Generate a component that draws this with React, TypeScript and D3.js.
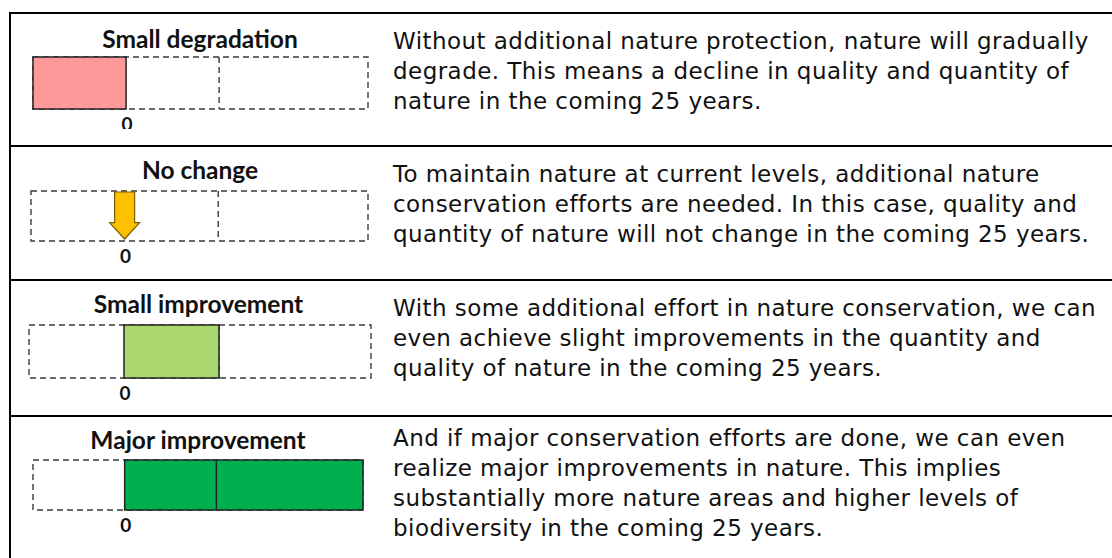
import React from "react";
import * as d3 from "d3";

// ---- data ----
const categories = ["Small degradation", "No change", "Small improvement", "Major improvement"];
const barStart = [-1, 0, 0, 0];
const barEnd = [0, 0, 1, 2.6];
const barColors = ["#FF9999", "#FFC000", "#A9D66E", "#00B050"];
const scaleDomain = [-1, 2.6];
const gridValues = [1];
const zeroLabel = "0";
const descriptions = [
  [
    "Without additional nature protection, nature will gradually",
    "degrade. This means a decline in quality and quantity of",
    "nature in the coming 25 years.",
  ],
  [
    "To maintain nature at current levels, additional nature",
    "conservation efforts are needed. In this case, quality and",
    "quantity of nature will not change in the coming 25 years.",
  ],
  [
    "With some additional effort in nature conservation, we can",
    "even achieve slight improvements in the quantity and",
    "quality of nature in the coming 25 years.",
  ],
  [
    "And if major conservation efforts are done, we can even",
    "realize major improvements in nature. This implies",
    "substantially more nature areas and higher levels of",
    "biodiversity in the coming 25 years.",
  ],
];

// ---- layout ----
const W = 1112;
const H = 558;
const rowLines = [13, 146, 280, 416];
const panelLayout = [
  { x0: 33, x1: 368, top: 57, bottom: 109, titleY: 48, titleX: 200, clipBottom: 129 },
  { x0: 31, x1: 368, top: 191, bottom: 241, titleY: 179, titleX: 200, clipBottom: 263 },
  { x0: 29, x1: 371, top: 325, bottom: 378, titleY: 313, titleX: 198.5, clipBottom: 410 },
  { x0: 33, x1: 363, top: 460, bottom: 510, titleY: 449, titleX: 198, clipBottom: 558 },
];
const textFirstBaseline = [49, 182, 316, 446];
const lineHeight = 30;
const textX = 393;

const dashStyle = { stroke: "#3a3a3a", strokeWidth: 1.4, strokeDasharray: "6,4", fill: "none" };

function Panel({ i }: { i: number }) {
  const L = panelLayout[i];
  const x = d3.scaleLinear().domain(scaleDomain).range([L.x0, L.x1]);
  const s = barStart[i];
  const e = barEnd[i];
  const isArrow = s === e;
  const cx = x(0);
  const arrowPath = (() => {
    const p = d3.path();
    const top = L.top + 1;
    const tip = L.bottom - 2;
    const neck = top + (tip - top) * 0.65;
    p.moveTo(cx - 10, top);
    p.lineTo(cx + 10, top);
    p.lineTo(cx + 10, neck);
    p.lineTo(cx + 15, neck);
    p.lineTo(cx, tip);
    p.lineTo(cx - 15, neck);
    p.lineTo(cx - 10, neck);
    p.closePath();
    return p.toString();
  })();
  return (
    <g clipPath={`url(#clip${i})`}>
      <defs>
        <clipPath id={`clip${i}`}>
          <rect x={12} y={rowLines[i] + 2} width={370} height={L.clipBottom - rowLines[i] - 2} />
        </clipPath>
      </defs>
      <text
        x={L.titleX}
        y={L.titleY}
        textAnchor="middle"
        fontFamily="Lato, 'Open Sans', sans-serif"
        fontWeight={700}
        fontSize={24.5}
        fill="#111"
      >
        {categories[i]}
      </text>
      <rect x={x(-1)} y={L.top} width={x(2.6) - x(-1)} height={L.bottom - L.top} style={dashStyle} />
      {gridValues.map((g) => (
        <line key={g} x1={x(g)} x2={x(g)} y1={L.top} y2={L.bottom} style={dashStyle} />
      ))}
      {!isArrow && (
        <rect
          x={x(Math.min(s, e))}
          y={L.top}
          width={Math.abs(x(e) - x(s))}
          height={L.bottom - L.top}
          fill={barColors[i]}
          stroke="#222"
          strokeWidth={1.5}
        />
      )}
      {!isArrow &&
        gridValues
          .filter((g) => g > Math.min(s, e) && g < Math.max(s, e))
          .map((g) => (
            <line key={"s" + g} x1={x(g)} x2={x(g)} y1={L.top} y2={L.bottom} stroke="#222" strokeWidth={1.5} />
          ))}
      {isArrow && (
        <>
          <line x1={cx} x2={cx} y1={L.top - 1} y2={L.top + 2} stroke="#5a4a10" strokeWidth={1.2} />
          <path d={arrowPath} fill={barColors[i]} stroke="#7a5c00" strokeWidth={1.2} />
        </>
      )}
      <text
        x={cx + 1}
        y={L.bottom + 22}
        textAnchor="middle"
        fontFamily="Lato, 'Open Sans', sans-serif"
        fontWeight={700}
        fontSize={19}
        fill="#111"
      >
        {zeroLabel}
      </text>
    </g>
  );
}

export default function App() {
  return (
    <svg
      width={W}
      height={H}
      viewBox={`0 0 ${W} ${H}`}
      style={{ position: "absolute", left: 0, top: 0, background: "#fff" }}
    >
      <rect x={0} y={0} width={W} height={H} fill="#fff" />
      {rowLines.map((y, k) => (
        <line key={k} x1={9} x2={W} y1={y} y2={y} stroke="#000" strokeWidth={2} />
      ))}
      <line x1={10} x2={10} y1={12} y2={H} stroke="#000" strokeWidth={2} />
      {categories.map((_, i) => (
        <Panel key={i} i={i} />
      ))}
      {descriptions.map((lines, i) => (
        <text
          key={i}
          fontFamily="'DejaVu Sans', Verdana, sans-serif"
          fontSize={23}
          letterSpacing={0.45}
          fill="#111"
        >
          {lines.map((ln, j) => (
            <tspan key={j} x={textX} y={textFirstBaseline[i] + j * lineHeight}>
              {ln}
            </tspan>
          ))}
        </text>
      ))}
    </svg>
  );
}
